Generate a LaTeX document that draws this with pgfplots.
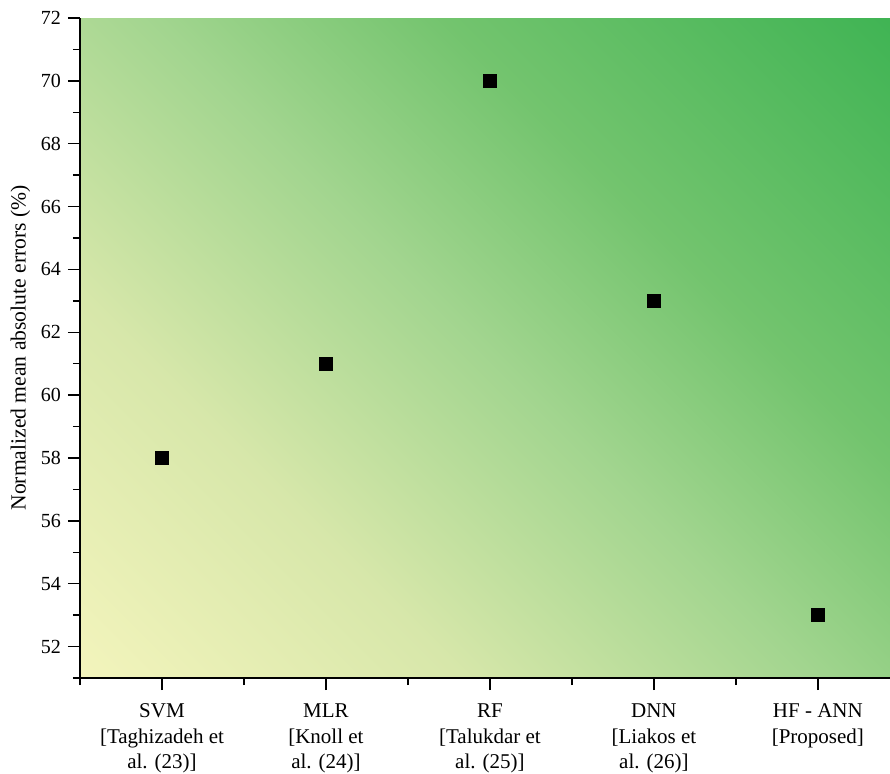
\documentclass[border=0pt]{standalone}
\usepackage{pgfplots}
\pgfplotsset{compat=1.18}
\usetikzlibrary{shadings}
\usepackage{fontspec}
\setmainfont{Liberation Serif}
\definecolor{cLL}{RGB}{243,244,188}
\definecolor{cA}{RGB}{215,231,170}
\definecolor{cB}{RGB}{162,213,143}
\definecolor{cC}{RGB}{115,196,110}
\definecolor{cUR}{RGB}{64,180,84}
\pgfdeclarehorizontalshading{bgshade}{100bp}{color(0bp)=(cLL); color(14.6bp)=(cLL); color(33bp)=(cA); color(50bp)=(cB); color(64bp)=(cC); color(85.4bp)=(cUR); color(100bp)=(cUR)}
\begin{document}
\begin{tikzpicture}
\useasboundingbox (-40pt,-47.5pt) rectangle (405pt,339pt);
\begin{axis}[
  at={(0,0)}, anchor=south west,
  scale only axis,
  width=405pt, height=330pt,
  xmin=-0.5, xmax=4.44,
  ymin=51, ymax=72,
  axis x line*=bottom, axis y line*=left,
  axis line style={line width=1pt, -},
  axis background/.style={shading=bgshade, shading angle=45},
  xtick={0,1,2,3,4},
  minor xtick={-0.5,0.5,1.5,2.5,3.5},
  xticklabels={{SVM\\{[}Taghizadeh et\\al. (23){]}},{MLR\\{[}Knoll et\\al. (24){]}},{RF\\{[}Talukdar et\\al. (25){]}},{DNN\\{[}Liakos et\\al. (26){]}},{HF - ANN\\{[}Proposed{]}}},
  xticklabel style={align=center, font=\fontsize{10.5}{12.6}\selectfont, yshift=-3.5pt},
  ytick={52,54,...,72},
  minor ytick={51,53,...,71},
  yticklabel style={font=\fontsize{10}{11}\selectfont},
  /pgf/number format/assume math mode=true,
  tick style={line width=0.75pt, black},
  major tick length=6pt, minor tick length=3.5pt,
  tick align=outside,
  ylabel={Normalized mean absolute errors (\%)},
  ylabel style={font=\fontsize{10.8}{12}\selectfont, yshift=-1.5pt},
  clip=false,
]
\addplot[only marks, mark=square*, mark size=3.3pt, black] coordinates {
  (0,58) (1,61) (2,70) (3,63) (4,53)
};
\end{axis}
\end{tikzpicture}
\end{document}
